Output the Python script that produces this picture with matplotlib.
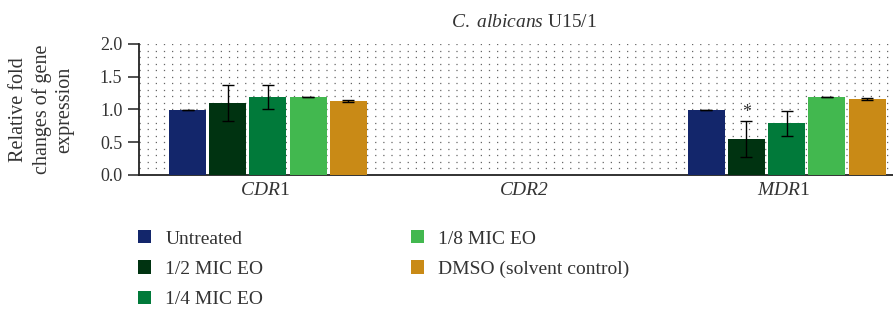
import numpy as np
import matplotlib
matplotlib.use("Agg")
import matplotlib.pyplot as plt
from matplotlib.patches import Patch

plt.rcParams['font.family'] = ['Liberation Serif', 'DejaVu Serif']
plt.rcParams['mathtext.fontset'] = 'custom'
plt.rcParams['mathtext.rm'] = 'Liberation Serif'
plt.rcParams['mathtext.it'] = 'Liberation Serif:italic'

genes = [r"$\mathit{CDR}$1", "CDR2", r"$\mathit{MDR}$1"]
groups = ["Untreated", "1/2 MIC EO", "1/4 MIC EO", "1/8 MIC EO", "DMSO (solvent control)"]
colors = ["#13266b", "#003311", "#017a3a", "#42b84f", "#c98a16"]

# values per group for CDR1, CDR2 (not detected), MDR1
vals = {
    "Untreated":              [0.99, np.nan, 0.99],
    "1/2 MIC EO":             [1.10, np.nan, 0.55],
    "1/4 MIC EO":             [1.19, np.nan, 0.79],
    "1/8 MIC EO":             [1.19, np.nan, 1.19],
    "DMSO (solvent control)": [1.13, np.nan, 1.16],
}
errs = {
    "Untreated":              [0.005, 0, 0.005],
    "1/2 MIC EO":             [0.28, 0, 0.28],
    "1/4 MIC EO":             [0.18, 0, 0.19],
    "1/8 MIC EO":             [0.005, 0, 0.005],
    "DMSO (solvent control)": [0.015, 0, 0.01],
}

txt = "#333333"
fig = plt.figure(figsize=(8.93, 3.10), dpi=100)
ax = fig.add_axes([0.1557, 0.4355, 0.8443, 0.4226])

x = np.arange(len(genes))
w = 0.143
step = 0.155
for i, g in enumerate(groups):
    pos = x + (i - 2) * step + 0.01
    v = np.array(vals[g])
    ok = ~np.isnan(v)
    ax.bar(pos[ok], v[ok], width=w, color=colors[i], zorder=3)
    ax.errorbar(pos[ok], v[ok], yerr=np.array(errs[g])[ok], fmt="none",
                ecolor="black", elinewidth=1, capsize=4, capthick=1, zorder=4)

# significance mark
ax.text(2 - step + 0.01, 0.83, "*", ha="center", va="bottom", fontsize=13, color=txt)

ax.set_xlim(-0.487, 2.42)
ax.set_ylim(0, 2.0)
ax.set_yticks([0, 0.5, 1.0, 1.5, 2.0])
ax.set_yticklabels(["0.0", "0.5", "1.0", "1.5", "2.0"], fontsize=13, color=txt)
ax.set_xticks(x)
ax.set_xticklabels(genes, fontsize=14, color=txt)
ax.get_xticklabels()[1].set_fontstyle("italic")
ax.tick_params(axis="x", length=0, pad=5)
ax.tick_params(axis="y", length=8, width=1.2, color="#333333", pad=4)
for yv in np.arange(0.1, 2.01, 0.1):
    ax.axhline(yv, color="#666666", lw=0.9, ls=(0, (1, 5.5)), zorder=1)
for s in ["top", "right"]:
    ax.spines[s].set_visible(False)
for s in ["left", "bottom"]:
    ax.spines[s].set_linewidth(1.3)
    ax.spines[s].set_color("#222222")

fig.text(0.047, 0.646, "Relative fold\nchanges of gene\nexpression", rotation=90,
         ha="center", va="center", fontsize=14.5, color=txt, linespacing=1.25,
         multialignment="center")
ax.set_title(r"$\mathit{C.\ albicans}$ U15/1", fontsize=14, color=txt, pad=12, x=0.51)

handles = [Patch(facecolor=c, edgecolor="none") for c in colors]
fig.legend(handles, groups, ncol=2, loc="upper left", bbox_to_anchor=(0.1545, 0.258),
           frameon=False, fontsize=14, handlelength=0.68, handleheight=0.68,
           handletextpad=0.72, labelspacing=0.66, columnspacing=7.6,
           labelcolor=txt, borderpad=0, borderaxespad=0)

fig.savefig("out.png", dpi=100)
